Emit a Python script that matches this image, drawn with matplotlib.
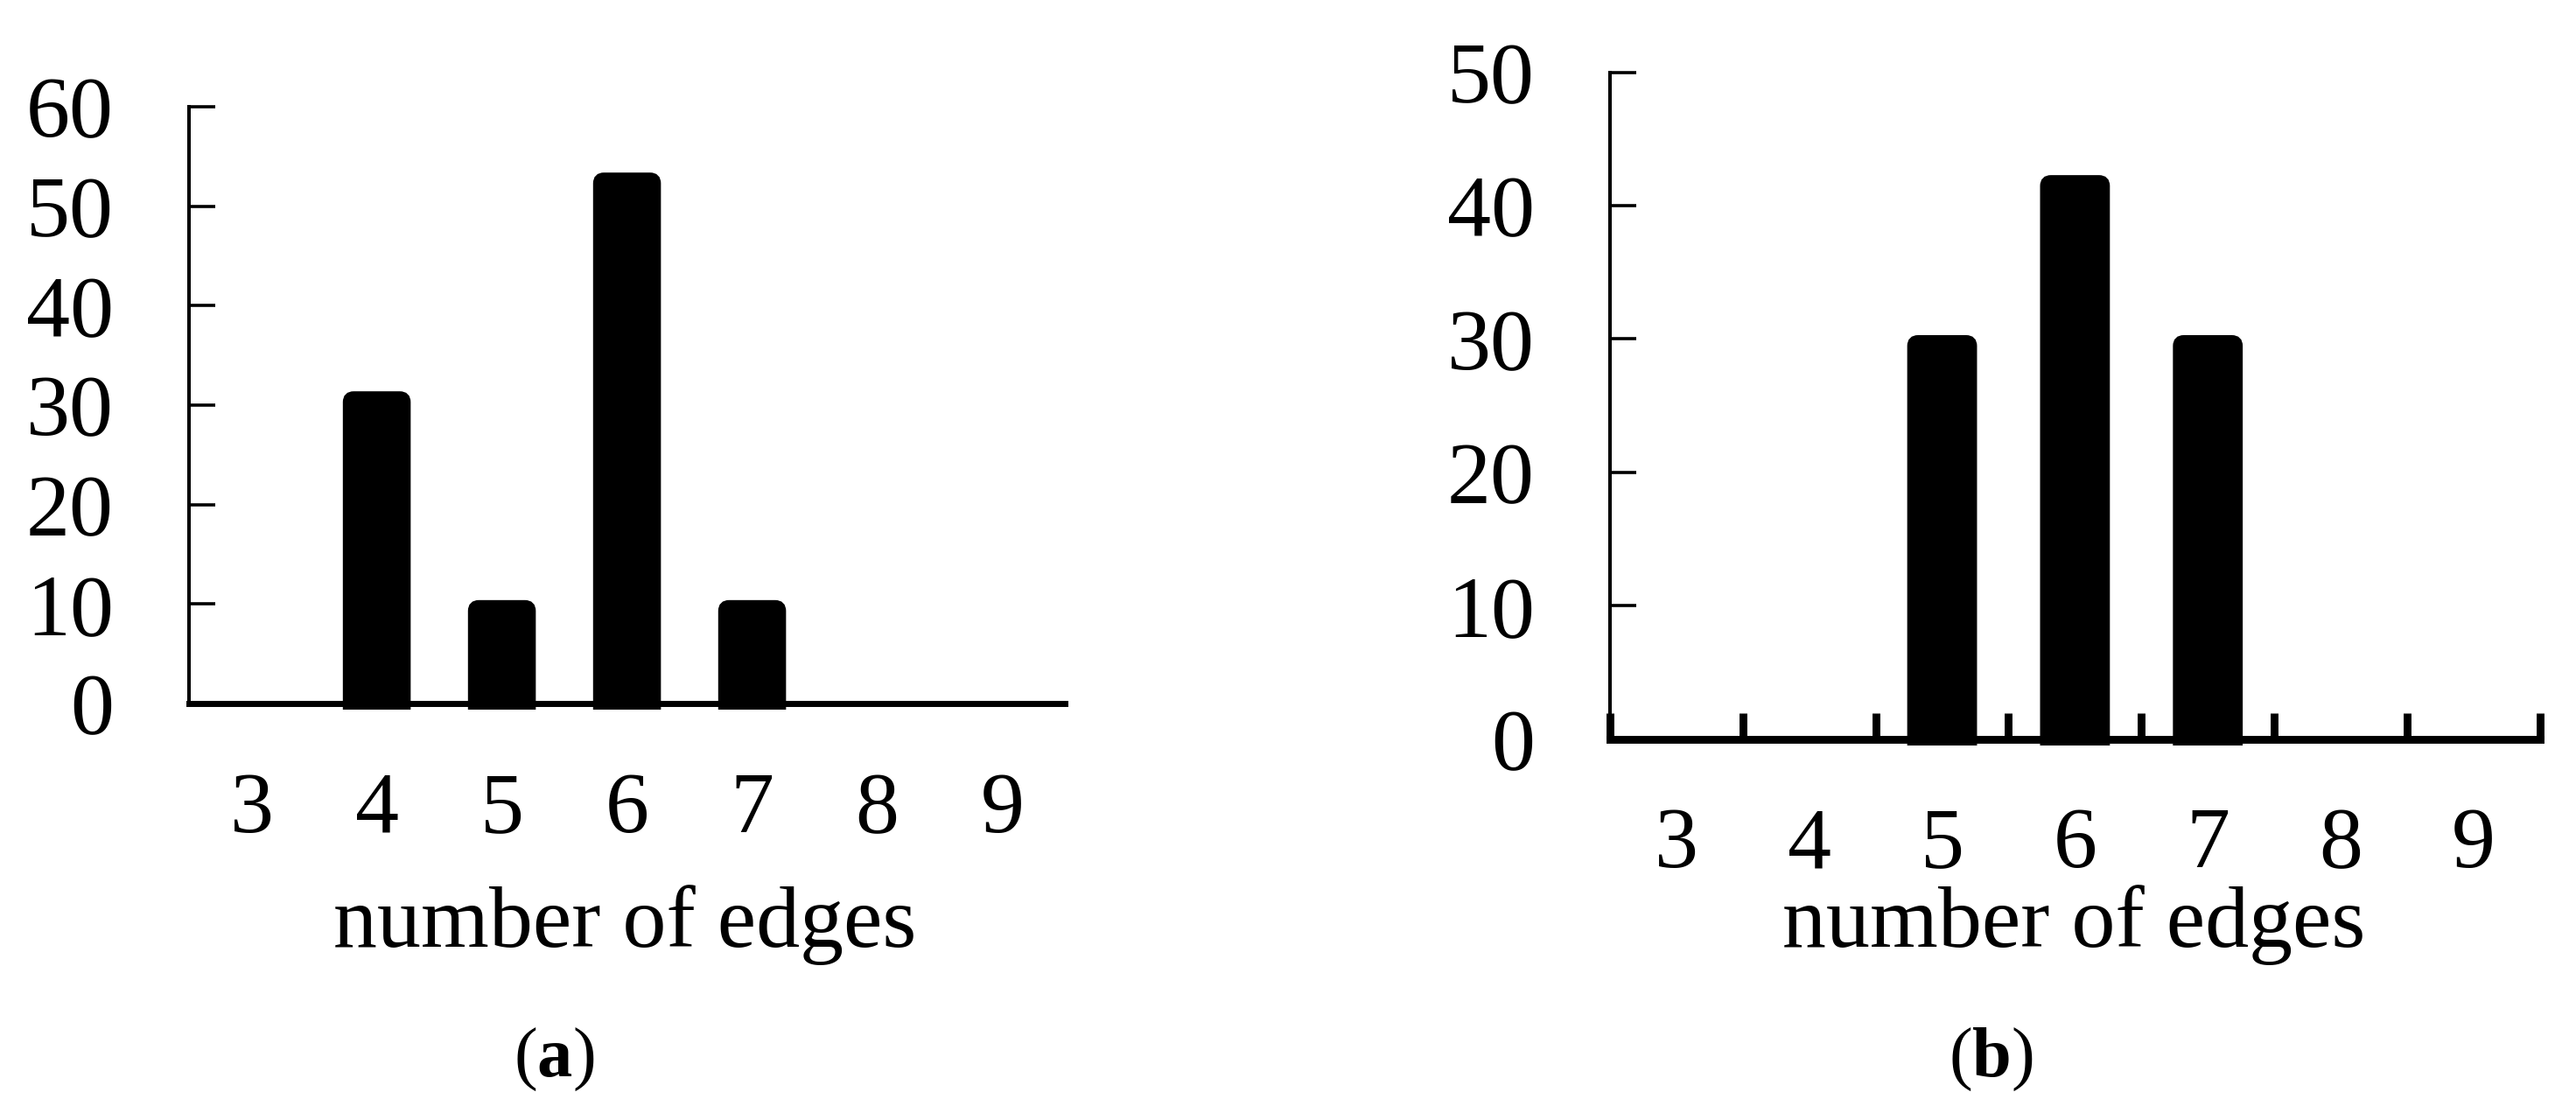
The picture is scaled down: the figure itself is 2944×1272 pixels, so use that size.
import matplotlib
matplotlib.use("Agg")
import matplotlib.pyplot as plt
from matplotlib.patches import FancyBboxPatch
from matplotlib.transforms import Bbox, TransformedBbox

plt.rcParams['font.family'] = ['Liberation Serif', 'DejaVu Serif']
plt.rcParams['mathtext.fontset'] = 'custom'
plt.rcParams['mathtext.rm'] = 'Liberation Serif'
plt.rcParams['mathtext.bf'] = 'Liberation Serif:bold'

# Dữ liệu
edges = [3, 4, 5, 6, 7, 8, 9]
counts_a = [0, 31, 10, 53, 10, 0, 0]
counts_b = [0, 0, 30, 42, 30, 0, 0]
yticks_a = [0, 10, 20, 30, 40, 50, 60]
yticks_b = [0, 10, 20, 30, 40, 50]
xlabel = 'number of edges'
panel_labels = ['a', 'b']

FS = 36

fig = plt.figure(figsize=(14.72, 6.36), dpi=200)
ax_a = fig.add_axes([0.0734, 0.368, 0.340, 0.536])
ax_b = fig.add_axes([0.625, 0.336, 0.361, 0.599])


def rounded_bars(ax, bars, radius_px=8, below_px=7):
    # thay các thanh vuông bằng thanh bo góc trên
    t = ax.transData
    px_x = t.transform((1, 0))[0] - t.transform((0, 0))[0]
    px_y = t.transform((0, 1))[1] - t.transform((0, 0))[1]
    rx = radius_px / px_x
    ry = radius_px / px_y
    below = below_px / px_y
    for rect in bars:
        x, w, h = rect.get_x(), rect.get_width(), rect.get_height()
        rect.set_visible(False)
        p = FancyBboxPatch((x, -4 * ry), w, h + 4 * ry,
                           boxstyle=f"round,pad=0,rounding_size={rx}",
                           mutation_aspect=ry / rx, facecolor='black',
                           edgecolor='black', linewidth=3.2, zorder=3)
        ax.add_patch(p)
        p.set_clip_path(None)
        p.set_clip_box(TransformedBbox(
            Bbox([[x - 1, -below], [x + w + 1, h + 5]]), ax.transData))


def draw_panel(ax, counts, yticks, bar_w, bottom_lw, xminor):
    xs = [e for e, c in zip(edges, counts) if c > 0]
    hs = [c for c in counts if c > 0]

    ax.set_xlim(edges[0] - 0.5, edges[-1] + 0.5)
    ax.set_ylim(yticks[0], yticks[-1])
    ax.set_yticks(yticks)
    ax.set_xticks(edges)
    ax.set_xticklabels([str(e) for e in edges])

    bars = ax.bar(xs, hs, width=bar_w, color='black')
    rounded_bars(ax, bars)

    ax.spines['top'].set_visible(False)
    ax.spines['right'].set_visible(False)
    ax.spines['left'].set_linewidth(1.45)
    ax.spines['bottom'].set_linewidth(bottom_lw)

    ax.tick_params(axis='y', direction='in', length=10.8, width=1.3,
                   pad=31, labelsize=FS)
    ax.tick_params(axis='x', which='major', length=0, pad=28, labelsize=FS)
    if xminor:
        ax.set_xticks([e - 0.5 for e in edges] + [edges[-1] + 0.5], minor=True)
        ax.tick_params(axis='x', which='minor', direction='in', length=10.8,
                       width=3.2)


draw_panel(ax_a, counts_a, yticks_a, 0.48, 2.5, False)
draw_panel(ax_b, counts_b, yticks_b, 0.467, 3.2, True)

fig.text(0.2425, 0.169, xlabel, fontsize=FS, ha='center', va='center')
fig.text(0.805, 0.169, xlabel, fontsize=FS, ha='center', va='center')

fig.text(0.215, 0.048, '(' + r'$\mathbf{' + panel_labels[0] + '}$' + ')',
         fontsize=29, ha='center', va='center')
fig.text(0.773, 0.048, '(' + r'$\mathbf{' + panel_labels[1] + '}$' + ')',
         fontsize=29, ha='center', va='center')

fig.savefig('out.png', dpi=200)
